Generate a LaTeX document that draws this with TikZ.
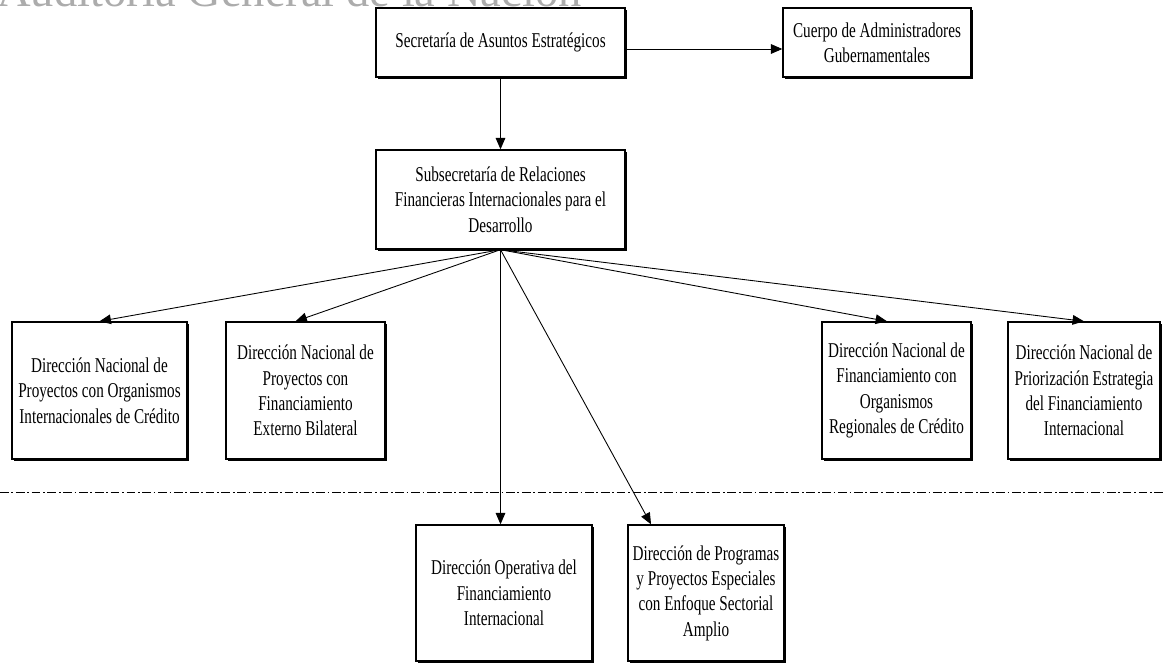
\documentclass[tikz,border=0pt]{standalone}
\usepackage{fontspec}
\setmainfont{Liberation Serif}[FakeStretch=0.72]
\newfontfamily\titulofont{Liberation Serif}
\usetikzlibrary{arrows.meta,shadows}

\tikzset{
	caja/.style={draw, line width=0.8pt, fill=white, align=center, inner sep=0pt,
		general shadow={fill=black, shadow xshift=1.3pt, shadow yshift=-1.3pt},
		font=\fontsize{12}{14.4}\selectfont},
	flecha/.style={-{Triangle[length=6.5pt,width=5.5pt]}, line width=0.5pt},
	corte/.style={line width=0.5pt, dash pattern=on 5pt off 1.5pt on 1pt off 1.5pt}
}

\begin{document}
\begin{tikzpicture}[x=0.02cm,y=-0.02cm]
	\useasboundingbox (0,0) rectangle (1165,662);
	\clip (0,0) rectangle (1165,662);
	\node[anchor=base west, inner sep=0pt, text=gray!65, font=\titulofont\fontsize{26.5}{26.5}\selectfont] at (-3,7) (agn) {Auditoría General de la Nación};
	\node[caja, minimum width=4.98cm, minimum height=1.38cm] at (500.5,42.5) (sec) {Secretaría de Asuntos Estratégicos};
	\node[caja, minimum width=3.76cm, minimum height=1.38cm] at (877,42.5) (cuerpo) {Cuerpo de Administradores\\Gubernamentales};
	\node[caja, minimum width=4.98cm, minimum height=1.98cm] at (500.5,199.5) (subsec) {Subsecretaría de Relaciones\\Financieras Internacionales para el\\Desarrollo};
	\node[caja, minimum width=3.5cm, minimum height=2.74cm] at (99.5,390.5) (dn1) {Dirección Nacional de\\Proyectos con Organismos\\Internacionales de Crédito};
	\node[caja, minimum width=3.18cm, minimum height=2.74cm] at (305.5,390.5) (dn2) {Dirección Nacional de\\Proyectos con\\Financiamiento\\Externo Bilateral};
	\node[caja, minimum width=2.98cm, minimum height=2.74cm] at (896.5,390.5) (dn3) {Dirección Nacional de\\Financiamiento con\\Organismos\\Regionales de Crédito};
	\node[caja, minimum width=3.04cm, minimum height=2.74cm] at (1084,390.5) (dn4) {Dirección Nacional de\\Priorización Estrategia\\del Financiamiento\\Internacional};
	\node[caja, minimum width=3.52cm, minimum height=2.72cm] at (504,593) (dop) {Dirección Operativa del\\Financiamiento\\Internacional};
	\node[caja, minimum width=3.12cm, minimum height=2.72cm] at (706,593) (dpp) {Dirección de Programas\\y Proyectos Especiales\\con Enfoque Sectorial\\Amplio};
	\coordinate (izq) at (0,492);
	\coordinate (der) at (1165,492);
	\draw[corte] (izq) -- (der);
	\path[flecha] ([yshift=-0.13cm]sec.east) edge ([yshift=-0.13cm]cuerpo.west)
	(sec.south) edge (subsec.north)
	(subsec.south) edge (dn1.north)
	(subsec.south) edge ([xshift=-0.2cm]dn2.north)
	(subsec.south) edge (subsec.south |- dop.north)
	(subsec.south) edge ([xshift=-1.1cm]dpp.north)
	(subsec.south) edge ([xshift=-0.19cm]dn3.north)
	(subsec.south) edge (dn4.north);
\end{tikzpicture}
\end{document}
